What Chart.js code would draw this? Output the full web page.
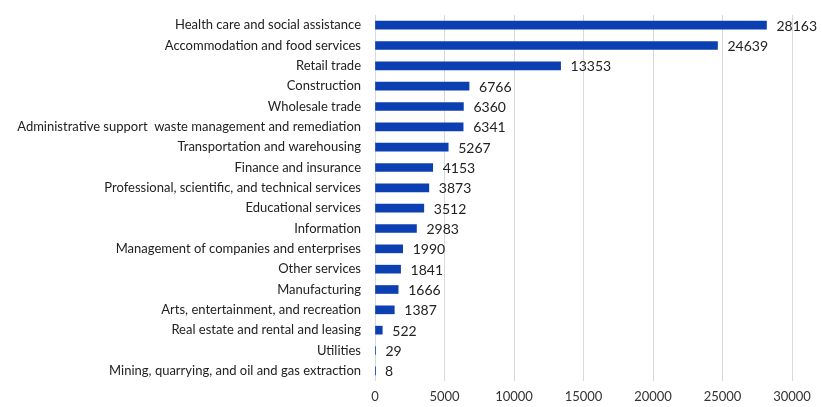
<!DOCTYPE html>
<html>
<head>
<meta charset="utf-8">
<script src="https://cdn.jsdelivr.net/npm/chart.js@4"></script>
<style>
  body { margin: 0; background: #fff; }
  #wrap { width: 822px; height: 407px; }
</style>
</head>
<body>
<div id="wrap"><canvas id="chart" width="822" height="407"></canvas></div>
<script>
const industries = [
    'Health care and social assistance',
    'Accommodation and food services',
    'Retail trade',
    'Construction',
    'Wholesale trade',
    'Administrative support  waste management and remediation',
    'Transportation and warehousing',
    'Finance and insurance',
    'Professional, scientific, and technical services',
    'Educational services',
    'Information',
    'Management of companies and enterprises',
    'Other services',
    'Manufacturing',
    'Arts, entertainment, and recreation',
    'Real estate and rental and leasing',
    'Utilities',
    'Mining, quarrying, and oil and gas extraction'
];
const counts = [28163, 24639, 13353, 6766, 6360, 6341, 5267, 4153, 3873, 3512, 2983, 1990, 1841, 1666, 1387, 522, 29, 8];
const xTicks = [0, 5000, 10000, 15000, 20000, 25000, 30000];

const FONT = 'Lato, "Open Sans", sans-serif';

// value labels to the right of each bar
const valueLabels = {
    id: 'valueLabels',
    afterDatasetsDraw(chart) {
        const ctx = chart.ctx;
        const meta = chart.getDatasetMeta(0);
        ctx.save();
        ctx.font = '14px ' + FONT;
        ctx.fillStyle = '#222';
        ctx.textAlign = 'left';
        ctx.textBaseline = 'middle';
        meta.data.forEach((bar, i) => {
            ctx.fillText(String(counts[i]), bar.x + 10, bar.y + 1);
        });
        ctx.restore();
    }
};

new Chart(document.getElementById('chart'), {
    type: 'bar',
    data: {
        labels: industries,
        datasets: [{
            data: counts,
            backgroundColor: '#0b3fb2',
            borderWidth: 0,
            barThickness: 8
        }]
    },
    options: {
        indexAxis: 'y',
        responsive: false,
        animation: false,
        layout: { padding: { left: 0, right: 30, top: 15, bottom: 0 } },
        plugins: { legend: { display: false }, tooltip: { enabled: false } },
        scales: {
            x: {
                min: 0,
                max: 30000,
                afterBuildTicks: (axis) => { axis.ticks = xTicks.map(v => ({ value: v })); },
                afterFit: (axis) => { axis.height = 26; },
                grid: { color: '#d9d9d9', drawTicks: false },
                border: { display: false },
                ticks: {
                    color: '#333', font: { family: FONT, size: 13 }, padding: 8, maxRotation: 0,
                    callback: (v) => String(v)
                }
            },
            y: {
                afterFit: (axis) => { axis.width = 375; axis.paddingTop = 0; axis.paddingBottom = 0; },
                grid: { display: false, drawTicks: false },
                border: { display: false },
                ticks: { color: '#222', font: { family: FONT, size: 13 }, padding: 14, autoSkip: false }
            }
        }
    },
    plugins: [valueLabels]
});
</script>
</body>
</html>
